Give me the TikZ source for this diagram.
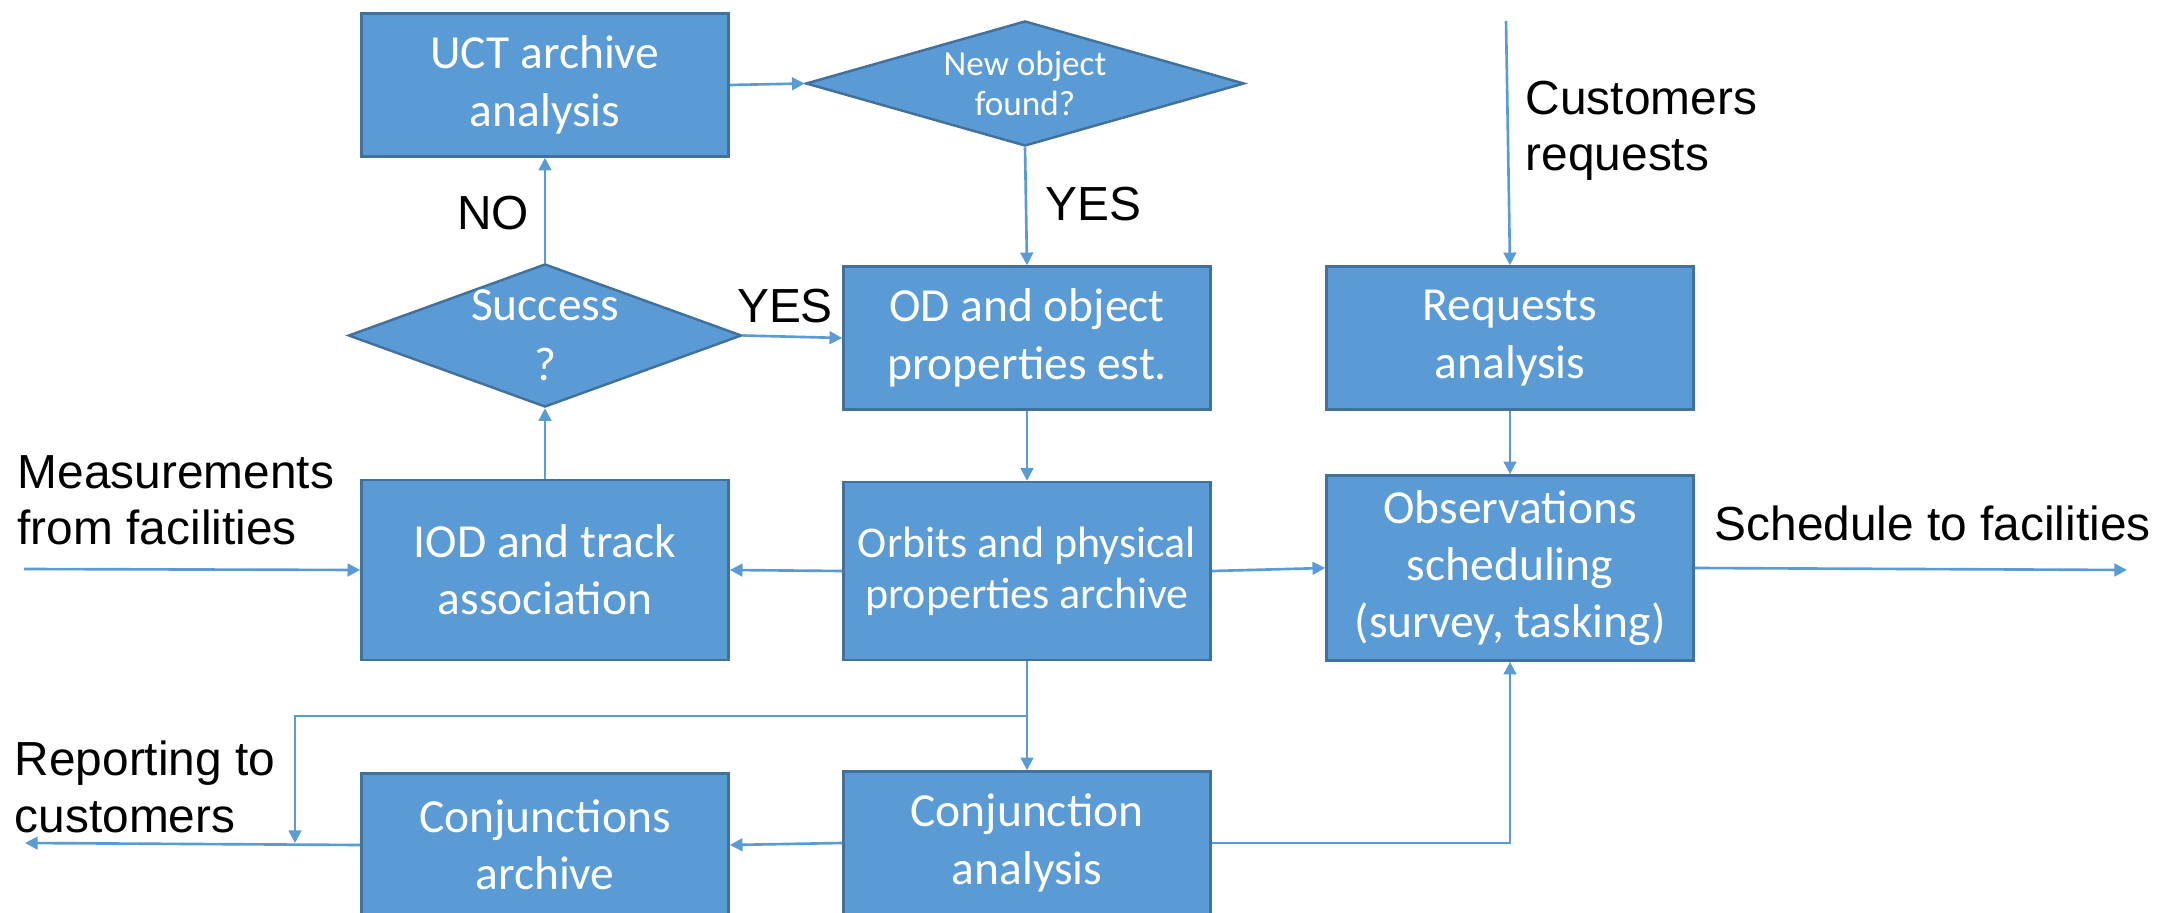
\documentclass[tikz,border=0pt]{standalone}
\usepackage{fontspec}
\setmainfont{Liberation Sans}
\newfontfamily\boxfont{Carlito}
\usepackage{tikz}
\usetikzlibrary{
  shapes.geometric,
  arrows.meta
}
\definecolor{boxFill}{HTML}{5B9BD5}
\definecolor{boxEdge}{HTML}{41719C}
\colorlet{flowLine}{boxFill}

\begin{document}
\begin{tikzpicture}[
  x=0.01cm,
  y=-0.01cm,
  process/.style={
    draw=boxEdge,
    line width=0.7pt,
    fill=boxFill,
    text=white,
    font=\boxfont\fontsize{13.5}{16.3}\selectfont,
    align=center,
    inner sep=0pt,
    minimum width=3.67cm,
    minimum height=1.43cm,
  },
  tall process/.style={
    process,
    minimum height=1.82cm,
  },
  decision/.style={
    diamond,
    draw=boxEdge,
    line width=0.7pt,
    fill=boxFill,
    text=white,
    font=\boxfont\fontsize{13.5}{17}\selectfont,
    align=center,
    inner sep=-2pt,
  },
  flow/.style={
    draw=flowLine,
    line width=0.75pt,
    -{Triangle[length=3.6pt,width=3.6pt]},
  },
  outer label/.style={
    font=\fontsize{13.6}{16}\selectfont,
    align=left,
    inner sep=0pt,
  },
]
\useasboundingbox (0,0) rectangle (2180,913);

% boxes and decisions
\node[process] (uct) at (545,85) {UCT archive\\analysis};
\node[decision,aspect=3.5,minimum width=4.38cm,minimum height=1.25cm,
  font=\boxfont\fontsize{10}{11.5}\selectfont] (newobj) at (1025,83.5) {New object\\found?};
\node[decision,aspect=2.75,minimum width=3.93cm,minimum height=1.43cm] (success) at (545,335.5) {Success\\?};
\node[process] (od) at (1027,338) {OD and object\\properties est.};
\node[process] (req) at (1510,338) {Requests\\analysis};
\node[tall process,minimum height=1.80cm] (iod) at (545,570) {IOD and track\\association};
\node[tall process,minimum height=1.78cm,
  font=\boxfont\fontsize{12.5}{14.5}\selectfont] (orbits) at (1027,571) {Orbits and physical\\properties archive};
\node[tall process,minimum height=1.85cm] (obs) at (1510,568) {Observations\\scheduling\\(survey, tasking)};
\node[process] (conjarch) at (545,845) {Conjunctions\\archive};
\node[process] (conjana) at (1027,843) {Conjunction\\analysis};

% free ends
\coordinate (measin) at (24,569);
\coordinate (reportout) at (25,843);
\coordinate (custin) at (1506,21);
\coordinate (schedout) at (2127,570);
\coordinate (split) at (1027,716);
\coordinate (reportdrop) at (295,716);

% outside texts
\node[outer label,anchor=west] (measlbl) at (17,500) {Measurements\\from facilities};
\node[outer label,anchor=west] (replbl) at (14,787) {Reporting to\\customers};
\node[outer label,anchor=west] (custlbl) at (1525,131) {Customers\\requests};
\node[outer label,anchor=west] (schedlbl) at (1714,523) {Schedule to facilities};
\node[outer label,anchor=west] (yesnew) at (1045,204) {YES};
\node[outer label] (yessucc) at (785,306) {YES};
\node[outer label] (nosucc) at (493,213) {NO};

% connectors
\draw[flow] (uct.east) -- (newobj.west);
\draw[flow] (newobj.south) -- (od.north);
\draw[flow] (success.east) -- (od.west);
\draw[flow] (success.north) -- (uct.south);
\draw[flow] (iod.north) -- (success.south);
\draw[flow] (od.south) -- (orbits.north);
\draw[flow] (orbits.west) -- (iod.east);
\draw[flow] (orbits.east) -- (obs.west);
\draw[flow] (req.south) -- (obs.north);
\draw[flow] (custin) -- (req.north);
\draw[flow] (obs.east) -- (schedout);
\draw[flow] (measin) -- (iod.west);
\draw[flow] (orbits.south) -- (conjana.north);
\draw[flow] (split) -- (reportdrop) -- (reportdrop |- reportout);
\draw[flow] (conjana.west) -- (conjarch.east);
\draw[flow] (conjarch.west) -- (reportout);
\draw[flow] (conjana.east) -| (obs.south);
\end{tikzpicture}
\end{document}
